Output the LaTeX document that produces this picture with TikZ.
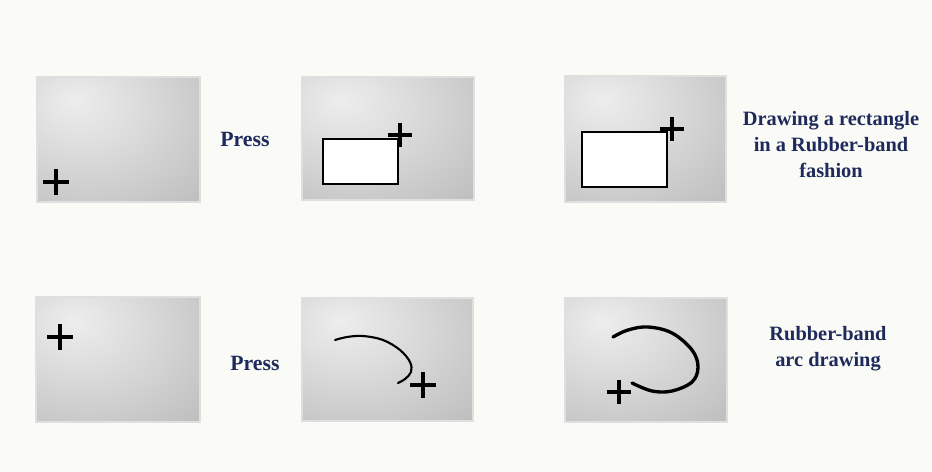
\documentclass[tikz,border=0pt]{standalone}
\usepackage{fontspec}
\setmainfont{Liberation Serif}
\definecolor{bgpaper}{HTML}{FAFBF6}
\definecolor{captionblue}{HTML}{1F2A5C}
\pgfdeclareradialshading{panelshade}{\pgfpoint{-14bp}{16bp}}{color(0bp)=(black!7); color(16bp)=(black!13); color(38bp)=(black!22); color(60bp)=(black!31); color(100bp)=(black!38)}
\tikzset{
  panel/.style={shading=panelshade, draw=gray!25, line width=0.6pt},
  cursor/.style={line width=2.3pt, black},
  band/.style={line width=1.6pt, black, fill=white},
  arcstroke/.style={black, line cap=round},
  caption/.style={text=captionblue, font=\bfseries\fontsize{11.6}{14.8}\selectfont, align=center}
}

\begin{document}
\begin{tikzpicture}[x=0.02cm,y=-0.02cm]
\fill[bgpaper] (0,0) rectangle (932,472);
\useasboundingbox (0,0) rectangle (932,472);
% top row: rectangle
\shadedraw[panel] (37,77) rectangle (200,202);
\shadedraw[panel] (302,77) rectangle (474,200);
\shadedraw[panel] (565,76) rectangle (726,202);
\draw[cursor] (56,182) +(-13,0) -- +(13,0) +(0,-13) -- +(0,13);
\draw[band] (323,139) rectangle (398,184);
\draw[cursor] (400,135) +(-12,0) -- +(12,0) +(0,-12) -- +(0,12);
\draw[band] (582,132) rectangle (667,187);
\draw[cursor] (672,129) +(-12,0) -- +(12,0) +(0,-12) -- +(0,12);
\node[caption, font=\bfseries\fontsize{12.4}{14.8}\selectfont] (press1) at (245,139) {Press};
\node[caption] (rectnote) at (831,145) {Drawing a rectangle\\in a Rubber-band\\fashion};
% bottom row: arc
\shadedraw[panel] (36,297) rectangle (200,422);
\shadedraw[panel] (302,298) rectangle (473,421);
\shadedraw[panel] (565,298) rectangle (727,422);
\draw[cursor] (60,337) +(-13,0) -- +(13,0) +(0,-13) -- +(0,13);
\draw[arcstroke, line width=1.2pt] plot[smooth, tension=0.6] coordinates {(335,340) (347,337) (363,336) (383,340) (400,350) (410,362) (411,372) (405,379) (398,383)};
\draw[cursor] (423,385) +(-13,0) -- +(13,0) +(0,-13) -- +(0,13);
\draw[arcstroke, line width=1.9pt] plot[smooth, tension=0.6] coordinates {(613,337) (628,330) (648,327) (672,333) (692,350) (698,367) (692,382) (672,391) (652,391) (632,383)};
\draw[cursor] (619,392) +(-12,0) -- +(12,0) +(0,-12) -- +(0,12);
\node[caption, font=\bfseries\fontsize{12.4}{14.8}\selectfont] (press2) at (255,363) {Press};
\node[caption] (arcnote) at (828,349) {Rubber-band\\arc drawing};
\end{tikzpicture}
\end{document}
